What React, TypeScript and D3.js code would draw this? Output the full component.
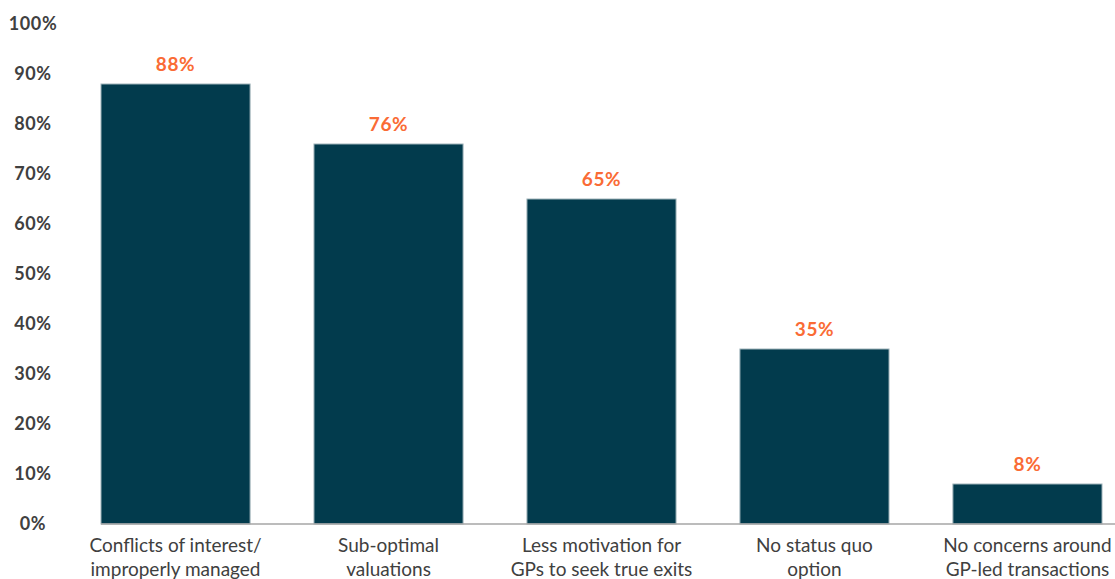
import React from "react";
import * as d3 from "d3";

const categories: string[][] = [
  ["Conflicts of interest/", "improperly managed"],
  ["Sub-optimal", "valuations"],
  ["Less motivation for", "GPs to seek true exits"],
  ["No status quo", "option"],
  ["No concerns around", "GP-led transactions"],
];
const values: number[] = [88, 76, 65, 35, 8];
const yTicks: number[] = [0, 10, 20, 30, 40, 50, 60, 70, 80, 90, 100];

const W = 1115;
const H = 579;
const FONT = "Lato, 'Open Sans', sans-serif";

export default function App() {
  const x = d3
    .scaleBand<number>()
    .domain(values.map((_, i) => i))
    .range([101, 1102])
    .paddingInner(0.3)
    .paddingOuter(0);
  const y = d3.scaleLinear().domain([0, 100]).range([524, 24]);

  return (
    <svg
      width={W}
      height={H}
      style={{ position: "absolute", left: 0, top: 0, background: "#fff" }}
    >
      {yTicks.map((t) => (
        <text
          key={t}
          x={33}
          y={y(t)}
          dy="0.35em"
          textAnchor="middle"
          fontFamily={FONT}
          fontWeight={700}
          fontSize={18}
          letterSpacing={0.6}
          fill="#404040"
        >
          {t}%
        </text>
      ))}
      {values.map((v, i) => (
        <g key={i}>
          <rect
            x={x(i)!}
            y={y(v)}
            width={x.bandwidth()}
            height={y(0) - y(v)}
            fill="#023B4D"
            stroke="#9fb3ba"
            strokeWidth={1}
          />
          <text
            x={x(i)! + x.bandwidth() / 2}
            y={y(v) - 13}
            textAnchor="middle"
            fontFamily={FONT}
            fontWeight={700}
            fontSize={19}
            letterSpacing={0.6}
            fill="#FA6B35"
          >
            {v}%
          </text>
          {categories[i].map((line, j) => (
            <text
              key={j}
              x={x(i)! + x.bandwidth() / 2}
              y={552 + j * 24}
              textAnchor="middle"
              fontFamily={FONT}
              fontSize={19}
              fill="#404040"
            >
              {line}
            </text>
          ))}
        </g>
      ))}
      <line x1={101} x2={W} y1={y(0)} y2={y(0)} stroke="#a6a6a6" strokeWidth={1.5} />
    </svg>
  );
}
